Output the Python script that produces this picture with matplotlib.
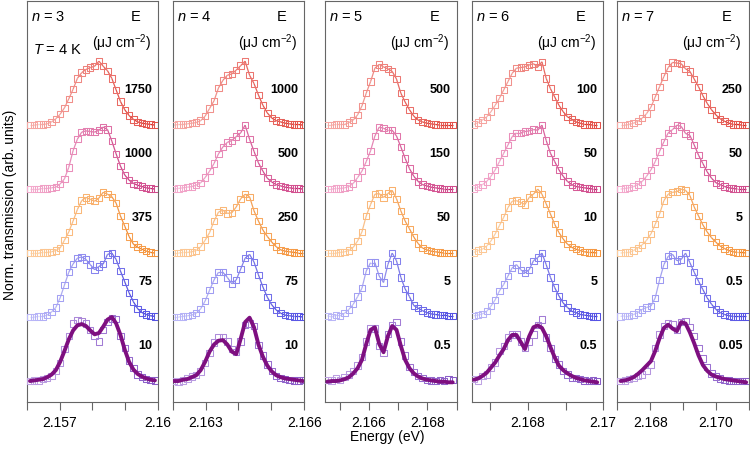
import numpy as np
import matplotlib.pyplot as plt
from matplotlib.collections import LineCollection
from matplotlib.colors import to_rgb

plt.rcParams['font.family'] = ['Liberation Sans', 'DejaVu Sans']
plt.rcParams['mathtext.fontset'] = 'custom'
plt.rcParams['mathtext.rm'] = 'Liberation Sans'
plt.rcParams['mathtext.it'] = 'Liberation Sans:italic'

# ---- data (values in % of trace spacing), bottom trace first ----
orders = [3, 4, 5, 6, 7]
xlims = [(2.156, 2.160), (2.162, 2.166), (2.1645, 2.169), (2.1665, 2.170), (2.167, 2.171)]
e_start = [2.15610, 2.16204, 2.16458, 2.16656, 2.16710]
e_stop = [2.15990, 2.16596, 2.16887, 2.16984, 2.17092]
tick_pos = [[2.156, 2.157, 2.158, 2.159, 2.160],
            [2.162, 2.163, 2.164, 2.165, 2.166],
            [2.165, 2.166, 2.167, 2.168, 2.169],
            [2.167, 2.168, 2.169, 2.170],
            [2.167, 2.168, 2.169, 2.170, 2.171]]
tick_lab = [['', '2.157', '', '', '2.16'],
            ['', '2.163', '', '', '2.166'],
            ['', '2.166', '', '2.168', ''],
            ['', '2.168', '', '2.17'],
            ['', '2.168', '', '2.170', '']]

fluence_n3 = ['10', '75', '375', '1000', '1750']
fluence_n4 = ['10', '75', '250', '500', '1000']
fluence_n5 = ['0.5', '5', '50', '150', '500']
fluence_n6 = ['0.5', '5', '10', '50', '100']
fluence_n7 = ['0.05', '0.5', '5', '50', '250']

n3_purple = [0, 1, 1, 3, 5, 8, 16, 28, 50, 70, 90, 95, 94, 90, 80, 70, 62, 80, 92, 98, 97, 70, 52, 32, 20, 10, 6, 3, 2, 1]
n3_blue = [0, 0, 1, 1, 3, 8, 15, 30, 50, 70, 83, 92, 94, 90, 82, 74, 79, 83, 98, 100, 90, 72, 55, 38, 24, 13, 7, 4, 2, 1]
n3_orange = [0, 0, 0, 1, 1, 2, 4, 8, 20, 33, 50, 68, 82, 87, 84, 81, 86, 95, 92, 88, 78, 58, 42, 26, 14, 9, 6, 3, 1, 0]
n3_pink = [0, 0, 0, 1, 1, 2, 3, 8, 16, 34, 60, 78, 89, 91, 90, 89, 92, 97, 93, 75, 55, 36, 22, 14, 9, 6, 4, 2, 1, 0]
n3_red = [0, 0, 1, 1, 2, 5, 10, 17, 27, 41, 56, 73, 82, 87, 90, 92, 100, 92, 85, 73, 55, 37, 24, 15, 9, 5, 3, 2, 1, 0]
n3_fit = [0, 1, 2, 3, 6, 10, 17, 30, 47, 65, 79, 87, 89, 86, 79, 73, 75, 85, 96, 100, 90, 72, 49, 30, 18, 11, 7, 4, 2, 1]

n4_purple = [0, -1, 1, 4, 7, 9, 15, 28, 44, 60, 68, 68, 62, 50, 45, 62, 88, 90, 86, 56, 40, 26, 16, 8, 5, 3, 2, 1, 1, 2]
n4_blue = [0, 0, 1, 2, 3, 6, 13, 25, 42, 58, 70, 70, 62, 52, 58, 75, 92, 98, 86, 66, 47, 31, 19, 11, 6, 3, 2, 1, 1, 0]
n4_orange = [0, 0, 1, 1, 2, 4, 10, 20, 32, 50, 64, 67, 62, 63, 72, 85, 92, 88, 66, 50, 36, 26, 17, 10, 5, 3, 2, 1, 0, 0]
n4_pink = [0, 1, 2, 3, 4, 6, 10, 18, 28, 40, 55, 66, 73, 76, 82, 88, 100, 78, 59, 41, 28, 17, 11, 7, 5, 3, 2, 1, 1, 0]
n4_red = [0, 1, 1, 2, 3, 4, 7, 14, 26, 38, 58, 70, 78, 80, 86, 93, 100, 78, 65, 47, 31, 19, 11, 7, 5, 3, 2, 1, 1, 0]
n4_fit = [0, 0, 2, 3, 6, 9, 17, 30, 46, 57, 63, 64, 57, 46, 42, 66, 92, 99, 84, 57, 38, 24, 15, 9, 6, 4, 3, 2, 1, 0]

n5_purple = [2, 1, 4, 2, 6, 10, 16, 24, 38, 62, 82, 82, 55, 44, 74, 88, 92, 62, 40, 22, 14, 8, 5, 2, 1, 0, 2, 0, 3, 2]
n5_blue = [2, 0, 3, 2, 6, 12, 20, 32, 45, 72, 85, 85, 64, 54, 82, 100, 88, 62, 44, 32, 18, 14, 10, 7, 5, 4, 3, 3, 2, 2]
n5_orange = [0, 0, 0, 1, 2, 4, 9, 19, 33, 58, 76, 92, 93, 87, 93, 98, 85, 66, 50, 38, 25, 15, 8, 5, 3, 2, 1, 0, 0, 0]
n5_pink = [0, 0, 1, 1, 2, 4, 9, 18, 28, 43, 60, 83, 97, 95, 92, 92, 83, 66, 48, 32, 20, 12, 7, 5, 3, 2, 1, 0, 0, 0]
n5_red = [0, 0, 1, 1, 1, 4, 8, 16, 30, 50, 68, 89, 95, 91, 88, 84, 72, 50, 36, 24, 14, 8, 5, 3, 2, 1, 0, 0, 0, 0]
n5_fit = [-1, 0, 0, 1, 3, 6, 12, 20, 33, 58, 80, 84, 58, 45, 70, 86, 80, 55, 33, 20, 12, 7, 4, 2, 1, 0, -1, -1, -2, -2]

n6_purple = [3, 1, 8, 10, 21, 29, 47, 55, 68, 73, 73, 62, 52, 62, 73, 88, 96, 68, 52, 34, 26, 16, 10, 5, 5, 3, 1, 0, 1, 0]
n6_blue = [2, 3, 5, 9, 17, 27, 41, 51, 64, 77, 82, 74, 69, 74, 88, 93, 100, 82, 62, 46, 33, 22, 15, 9, 7, 4, 3, 2, 1, 1]
n6_orange = [1, 4, 6, 11, 19, 30, 43, 56, 71, 81, 82, 79, 76, 87, 92, 100, 92, 77, 61, 45, 32, 22, 14, 9, 6, 4, 2, 1, 1, 0]
n6_pink = [1, 3, 7, 12, 20, 30, 43, 56, 69, 82, 88, 88, 90, 91, 93, 92, 100, 76, 56, 43, 30, 20, 12, 7, 4, 3, 2, 1, 0, 0]
n6_red = [1, 4, 8, 13, 21, 31, 42, 55, 68, 81, 89, 90, 91, 94, 96, 91, 99, 73, 57, 44, 31, 21, 13, 9, 5, 3, 1, 1, 0, 0]
n6_fit = [2, 4, 8, 13, 21, 29, 40, 50, 64, 72, 72, 61, 50, 70, 84, 87, 83, 70, 53, 37, 24, 17, 12, 8, 5, 3, 1, 0, -1, -2]

n7_purple = [0, 1, 3, 5, 8, 10, 16, 26, 52, 73, 86, 91, 89, 80, 92, 94, 84, 70, 52, 35, 22, 12, 7, 4, 2, 1, 0, 0, 0, 0]
n7_blue = [1, 2, 2, 4, 7, 12, 15, 17, 30, 58, 82, 95, 98, 88, 90, 100, 85, 70, 56, 43, 30, 20, 12, 7, 4, 2, 1, 1, 1, 1]
n7_orange = [0, 1, 1, 4, 8, 13, 20, 30, 45, 61, 82, 92, 95, 96, 100, 98, 90, 72, 58, 44, 33, 24, 17, 11, 7, 4, 2, 1, 1, 0]
n7_pink = [0, 1, 2, 4, 7, 12, 20, 30, 43, 59, 74, 88, 93, 100, 98, 87, 84, 69, 53, 40, 27, 17, 10, 7, 4, 2, 1, 0, 0, 0]
n7_red = [0, 0, 1, 3, 6, 11, 18, 28, 44, 60, 76, 90, 98, 97, 96, 88, 84, 72, 60, 46, 34, 24, 16, 10, 6, 3, 1, 1, 0, 0]
n7_fit = [0, 1, 3, 6, 11, 17, 24, 31, 47, 67, 83, 88, 82, 78, 92, 90, 76, 59, 40, 25, 16, 10, 7, 5, 3, 2, 1, 0, -1, -2]

traces = [[n3_purple, n3_blue, n3_orange, n3_pink, n3_red],
          [n4_purple, n4_blue, n4_orange, n4_pink, n4_red],
          [n5_purple, n5_blue, n5_orange, n5_pink, n5_red],
          [n6_purple, n6_blue, n6_orange, n6_pink, n6_red],
          [n7_purple, n7_blue, n7_orange, n7_pink, n7_red]]
fits = [n3_fit, n4_fit, n5_fit, n6_fit, n7_fit]
fluences = [fluence_n3, fluence_n4, fluence_n5, fluence_n6, fluence_n7]

# ---- style ----
sq_left = ['#c0a4e4', '#bdbaf8', '#fdcc9c', '#f5acce', '#f7aaa6']
sq_right = ['#8a5cc8', '#5552e4', '#f5963f', '#d04b8c', '#e3524a']
ln_left = [None, '#d4d2fb', '#fddcb8', '#f8c2dc', '#f9c0bb']
ln_right = [None, '#3c38d8', '#ee7a18', '#c21e6e', '#dc2a22']
fit_color = '#7e0f80'
spine_c = '#666666'


def blend(c0, c1, m):
    a, b = np.array(to_rgb(c0)), np.array(to_rgb(c1))
    t = np.linspace(0, 1, m)[:, None]
    return a * (1 - t) + b * t


fig = plt.figure(figsize=(7.5, 4.55), dpi=100)
lefts_px = [26.7, 172.7, 325.0, 471.7, 617.3]

for i, n in enumerate(orders):
    ax = fig.add_axes([lefts_px[i] / 750, 53.5 / 455, 131.5 / 750, 400.5 / 455])
    E = np.linspace(e_start[i], e_stop[i], len(traces[i][0]))
    for j, vals in enumerate(traces[i]):
        y = j + np.array(vals) / 100.0
        m = len(E)
        if j > 0:
            pts = np.column_stack([E, y])
            segs = np.stack([pts[:-1], pts[1:]], axis=1)
            lc = LineCollection(segs, colors=blend(ln_left[j], ln_right[j], m - 1),
                                linewidths=0.9, zorder=2)
            ax.add_collection(lc)
        ax.scatter(E, y, s=21, marker='s', facecolors='none',
                   edgecolors=blend(sq_left[j], sq_right[j], m),
                   linewidths=0.75, zorder=3)
        ax.text(0.955, j + 0.55, fluences[i][j], transform=ax.get_yaxis_transform(),
                ha='right', va='center', fontsize=9, fontweight='bold')
    ax.plot(E, np.array(fits[i]) / 100.0, color=fit_color, lw=2.8,
            solid_capstyle='round', zorder=4)

    ax.set_xlim(*xlims[i])
    ax.set_ylim(-0.32, 5.94)
    ax.set_yticks([])
    ax.set_xticks(tick_pos[i])
    ax.set_xticklabels(tick_lab[i])
    ax.tick_params(axis='x', direction='out', length=6, width=0.8,
                   color=spine_c, pad=4.5, labelsize=10)
    for s in ax.spines.values():
        s.set_color(spine_c)
        s.set_linewidth(0.8)

    ax.text(0.03, 0.96, r'$n$ = %d' % n, transform=ax.transAxes,
            ha='left', va='center', fontsize=10.5)
    ax.text(0.83, 0.96, 'E', transform=ax.transAxes,
            ha='center', va='center', fontsize=10.5)
    ax.text(0.945, 0.895, r'($\mathrm{\mu}$J cm$^{-2}$)', transform=ax.transAxes,
            ha='right', va='center', fontsize=10)
    if i == 0:
        ax.text(0.05, 0.878, r'$T$ = 4 K', transform=ax.transAxes,
                ha='left', va='center', fontsize=10.5)

fig.text(0.517, 0.040, 'Energy (eV)', ha='center', va='center', fontsize=10)
fig.text(0.0135, 0.55, 'Norm. transmission (arb. units)', rotation=90,
         ha='center', va='center', fontsize=10)

fig.savefig('out.png', dpi=100)
